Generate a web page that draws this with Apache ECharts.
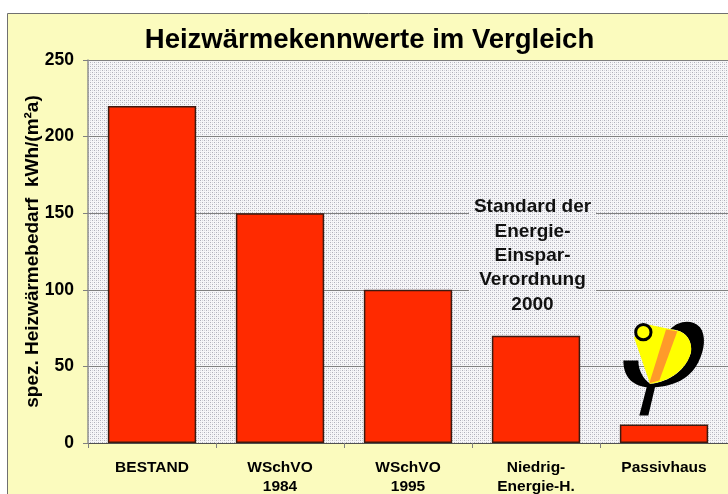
<!DOCTYPE html>
<html><head><meta charset="utf-8">
<style>html,body{margin:0;padding:0;background:#fff}#c{width:728px;height:494px}</style>
<script src="https://cdn.jsdelivr.net/npm/echarts@6/dist/echarts.min.js"></script>
</head><body><div id="c"></div>
<script>
var categories = ['BESTAND', 'WSchVO\n1984', 'WSchVO\n1995', 'Niedrig-\nEnergie-H.', 'Passivhaus'];
var values = [220, 150, 100, 70, 12];
var titleText = 'Heizwärmekennwerte im Vergleich';
var yName = 'spez. Heizwärmebedarf  kWh/(m²a)';
var noteText = 'Standard der\nEnergie-\nEinspar-\nVerordnung\n2000';

var FONT = '"Liberation Sans", Arial, sans-serif';
var pc = document.createElement('canvas');
pc.width = 4; pc.height = 4;
var g = pc.getContext('2d');
g.fillStyle = '#f6f6f8'; g.fillRect(0, 0, 4, 4);
g.fillStyle = '#b0b0ba';
g.fillRect(0, 0, 1, 1); g.fillRect(2, 2, 1, 1);
g.fillStyle = '#d6d6dc';
g.fillRect(2, 0, 1, 1); g.fillRect(0, 2, 1, 1);
var pattern = { image: pc, repeat: 'repeat' };

function renderLogo() {
  return { type: 'group', x: 620, y: 315.5, scaleX: 1/3, scaleY: 1/3, silent: true, children: [
    { type: 'path', shape: { pathData: 'M150 42 C175 15 215 10 240 35 C258 60 255 100 235 140 C210 190 160 212 105 215 L85 300 L58 300 L80 215 C50 212 10 195 10 135 L55 135 C55 165 70 190 90 205 C150 200 200 160 213 110 C218 70 190 40 150 42 Z' }, style: { fill: '#000' } },
    { type: 'path', shape: { pathData: 'M42 65 L88 28 L170 45 C200 50 218 80 213 110 C200 160 150 198 90 205 Z' }, style: { fill: '#ffff00' } },
    { type: 'path', shape: { pathData: 'M138 42 L172 47 L118 195 L88 203 Z' }, style: { fill: '#ff9a2a' } },
    { type: 'circle', shape: { cx: 70, cy: 50, r: 23 }, style: { fill: '#ffff00', stroke: '#000', lineWidth: 9 } }
  ] };
}

var chart = echarts.init(document.getElementById('c'), null, { renderer: 'canvas' });
chart.setOption({
  animation: false,
  backgroundColor: '#ffffff',
  title: {
    text: titleText, left: 364.5, top: 20, textAlign: 'center',
    textStyle: { fontFamily: FONT, fontSize: 27.5, fontWeight: 'bold', color: '#000', lineHeight: 30 }
  },
  grid: { left: 88, right: 0, top: 60, bottom: 51, show: true, backgroundColor: pattern, borderWidth: 0, outerBoundsMode: 'none' },
  xAxis: {
    type: 'category', data: categories,
    axisLine: { lineStyle: { color: '#505050', width: 1 } },
    axisTick: { show: true, length: 5, alignWithLabel: false, lineStyle: { color: '#808080' } },
    axisLabel: { fontFamily: FONT, fontWeight: 'bold', fontSize: 15.5, color: '#000', margin: 15, lineHeight: 19, interval: 0 }
  },
  yAxis: {
    type: 'value', min: 0, max: 250, interval: 50,
    name: yName, nameLocation: 'middle', nameGap: 46, nameRotate: 90, nameMoveOverlap: false,
    nameTextStyle: { fontFamily: FONT, fontWeight: 'bold', fontSize: 19, color: '#000' },
    axisLine: { show: true, lineStyle: { color: '#909090', width: 1.5 } },
    axisTick: { show: true, length: 5, lineStyle: { color: '#808080' } },
    axisLabel: { fontFamily: FONT, fontWeight: 'bold', fontSize: 17.5, color: '#000', margin: 14 },
    splitLine: { show: true, lineStyle: { color: '#808080', width: 1 } }
  },
  series: [{
    type: 'bar', data: values, barWidth: '69%', z: 3,
    itemStyle: { color: '#ff2a00', borderColor: '#3c1a10', borderWidth: 1.5 }
  }, {
    type: 'custom', data: [0], z: 7, silent: true, renderItem: renderLogo, clip: false
  }],
  graphic: [
    { type: 'rect', z: -10, silent: true, shape: { x: 7.5, y: 13.5, width: 740, height: 500 },
      style: { fill: '#fbfbbe', stroke: '#707070', lineWidth: 1 } },
    { type: 'rect', z: 5, silent: true, shape: { x: 469, y: 196, width: 127, height: 118 },
      style: { fill: pattern } },
    { type: 'text', z: 6, silent: true, x: 532.5, y: 195,
      style: { text: noteText, fontFamily: FONT, fontWeight: 'bold', fontSize: 19, lineHeight: 24.3, fill: '#111', align: 'center', verticalAlign: 'top' } }
  ]
});
</script></body></html>
